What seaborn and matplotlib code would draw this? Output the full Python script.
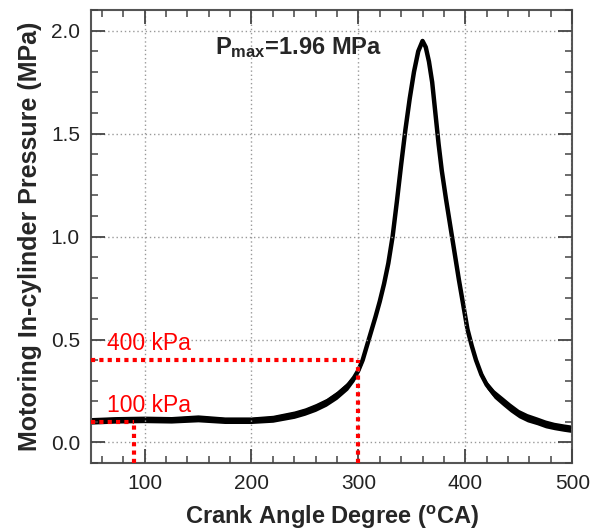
import pandas as pd
import seaborn as sns
import matplotlib.pyplot as plt
from matplotlib.ticker import MultipleLocator

# Values (centre of the noisy trace)
crank_angle = [50, 75, 100, 125, 150, 175, 200, 220, 240, 250, 260, 270, 280, 290,
               296, 300, 304, 308, 312, 316, 320, 324, 328, 332, 336, 340, 344, 348,
               352, 356, 360, 363, 366, 369, 372, 375, 378, 382, 386, 390, 394, 398,
               402, 406, 410, 415, 420, 427, 435, 442, 450, 458, 467, 475, 483, 492, 500]
pressure = [0.105, 0.11, 0.112, 0.11, 0.117, 0.108, 0.108, 0.115, 0.135, 0.15, 0.17,
            0.195, 0.23, 0.275, 0.315, 0.35, 0.40, 0.47, 0.54, 0.61, 0.685, 0.77, 0.87,
            1.0, 1.17, 1.35, 1.52, 1.67, 1.8, 1.9, 1.95, 1.92, 1.85, 1.75, 1.6, 1.45,
            1.32, 1.18, 1.05, 0.92, 0.79, 0.67, 0.55, 0.47, 0.4, 0.33, 0.28, 0.235, 0.2,
            0.17, 0.14, 0.12, 0.105, 0.09, 0.08, 0.072, 0.066]
# half thickness of the noise band around the trace
band_half = [0.016, 0.016, 0.016, 0.016, 0.017, 0.016, 0.016, 0.017, 0.018, 0.018,
             0.019, 0.019, 0.02, 0.02, 0.018, 0.015, 0.012, 0.01, 0.008, 0.006, 0.005,
             0.005, 0.004, 0.004, 0.004, 0.004, 0.004, 0.004, 0.004, 0.006, 0.01, 0.008,
             0.005, 0.004, 0.004, 0.004, 0.004, 0.004, 0.004, 0.004, 0.004, 0.005,
             0.006, 0.008, 0.01, 0.014, 0.018, 0.02, 0.021, 0.021, 0.02, 0.02, 0.019,
             0.019, 0.018, 0.018, 0.018]

# red reference markers
ref_angles = [90, 300]
ref_pressures = [0.1, 0.4]
ref_labels = ['100 kPa', '400 kPa']

df = pd.DataFrame({'Angle': crank_angle, 'Pressure': pressure})
df['Low'] = df['Pressure'] - pd.Series(band_half)
df['High'] = df['Pressure'] + pd.Series(band_half)

sns.set_style('ticks')
plt.rcParams.update({
    'font.family': ['Liberation Sans', 'DejaVu Sans'],
    'mathtext.fontset': 'custom',
    'mathtext.rm': 'Liberation Sans:bold',
    'mathtext.bf': 'Liberation Sans:bold',
    'axes.axisbelow': False,
    'xtick.direction': 'in', 'ytick.direction': 'in',
    'xtick.top': True, 'ytick.right': True,
    'xtick.bottom': True, 'ytick.left': True,
    'xtick.minor.visible': True, 'ytick.minor.visible': True,
    'xtick.major.size': 10, 'ytick.major.size': 10,
    'xtick.minor.size': 5, 'ytick.minor.size': 5,
    'xtick.major.width': 1.3, 'ytick.major.width': 1.3,
    'xtick.minor.width': 1.1, 'ytick.minor.width': 1.1,
    'xtick.color': '#444444', 'ytick.color': '#444444',
    'xtick.labelcolor': '#222222', 'ytick.labelcolor': '#222222',
    'xtick.labelsize': 15, 'ytick.labelsize': 15,
    'xtick.major.pad': 8, 'ytick.major.pad': 8,
})

fig = plt.figure(figsize=(6.03, 5.31), dpi=100)
ax = fig.add_axes([0.151, 0.128, 0.798, 0.853])

xmin, ymin = 50, -0.1
for a, p, lab in zip(ref_angles, ref_pressures, ref_labels):
    ax.plot([xmin, a], [p, p], color='red', lw=3, dashes=(1, 1), zorder=3)
    ax.plot([a, a], [ymin, p], color='red', lw=3, dashes=(1, 1), zorder=3)
    ax.text(65, p + 0.08, lab, color='red', fontsize=16.5, ha='left', va='center')

ax.fill_between(df['Angle'], df['Low'], df['High'], color='black', lw=0, zorder=2)
sns.lineplot(ax=ax, x='Angle', y='Pressure', data=df, color='black', lw=3.2,
             sort=False, zorder=2)

ax.text(166, 1.92, r'$\mathbf{P_{max}}$=1.96 MPa', fontsize=17, fontweight='bold',
        ha='left', va='center')

ax.set_xlim(50, 500)
ax.set_ylim(-0.1, 2.1)
ax.xaxis.set_major_locator(MultipleLocator(100))
ax.xaxis.set_minor_locator(MultipleLocator(10))
ax.yaxis.set_major_locator(MultipleLocator(0.5))
ax.yaxis.set_minor_locator(MultipleLocator(0.05))
ax.yaxis.set_major_formatter(plt.FormatStrFormatter('%.1f'))
ax.minorticks_on()

ax.grid(True, which='major', color='#999999', linestyle=(0, (1, 2)), lw=1, zorder=0)
for s in ax.spines.values():
    s.set_color('#555555')
    s.set_linewidth(1.5)

ax.set_xlabel('Crank Angle Degree ($\\mathregular{^{o}}$CA)', fontsize=17,
              fontweight='bold', labelpad=8)
ax.set_ylabel('Motoring In-cylinder Pressure (MPa)', fontsize=18,
              fontweight='bold', labelpad=6)

fig.savefig('out.png', dpi=100)
